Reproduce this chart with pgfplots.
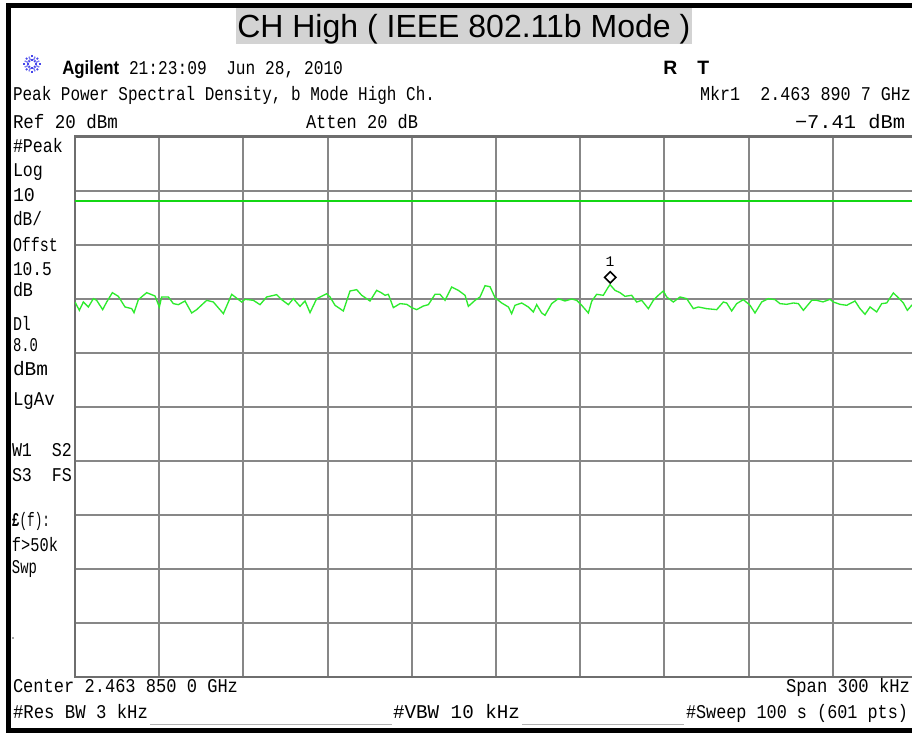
\documentclass[border=0pt]{standalone}
\usepackage{pgfplots}
\pgfplotsset{compat=1.18}
\usepackage{graphicx}
\usepackage{fontspec}
\setmainfont{Liberation Sans}
\newfontfamily\scr{Liberation Mono}
\newcommand\mono{\scr\fontsize{14.6pt}{17pt}\selectfont}
\definecolor{trace}{RGB}{45,235,45}
\definecolor{dlc}{RGB}{20,215,20}
\definecolor{gridc}{RGB}{135,135,135}
\definecolor{framec}{RGB}{110,110,110}
\definecolor{titlebg}{RGB}{211,211,211}
\definecolor{agblue}{RGB}{70,70,235}
% text placed between measured left/right pixel extents, baseline y
\newcommand\T[4]{\node[anchor=base west,inner sep=0pt,outer sep=0pt] at (#1,#3) {\resizebox{\dimexpr 3pt*(#2-#1)/4\relax}{\height}{\mono #4}};}
\begin{document}
\begin{tikzpicture}
\path[use as bounding box] (0pt,0pt) rectangle (684pt,-549.75pt);
\clip (0pt,0pt) rectangle (684pt,-549.75pt);
\fill[white] (0pt,0pt) rectangle (684pt,-549.75pt);
\begin{axis}[at={(56.25pt,-507.75pt)}, anchor=south west, scale only axis,
  width=631.5pt, height=405.375pt,
  xmin=-150, xmax=150, ymin=-80, ymax=20,
  xtick={-150,-120,...,150}, ytick={-80,-70,...,20},
  xticklabels={}, yticklabels={}, tick style={draw=none},
  grid=major, grid style={gridc, line width=1.5pt},
  axis line style={framec, line width=2.2pt}, clip=true]
\addplot[dlc, line width=1.3pt] coordinates {(-150,8) (150,8)};
\addplot[trace, line width=1pt] coordinates {
(-150.0,-10.62) (-148.45,-12.16) (-147.03,-10.62) (-145.24,-11.54) (-143.46,-10.00) (-142.28,-10.31) (-140.14,-12.03) (-138.71,-10.62) (-136.69,-8.89) (-134.56,-9.57) (-132.18,-11.54) (-129.80,-11.85) (-128.97,-12.59) (-127.43,-10.18) (-124.46,-8.89) (-121.49,-9.51) (-119.95,-11.54) (-119.12,-9.69) (-116.74,-9.69) (-114.96,-10.92) (-113.18,-11.11) (-110.80,-10.43) (-108.43,-12.65) (-106.65,-12.03) (-103.08,-10.31) (-100.71,-10.62) (-97.14,-12.77) (-94.17,-9.20) (-90.61,-10.62) (-89.42,-10.12) (-86.45,-10.31) (-84.08,-11.11) (-81.71,-9.69) (-78.14,-9.26) (-76.36,-10.18) (-73.98,-11.11) (-72.20,-10.00) (-69.83,-11.42) (-68.04,-10.43) (-66.26,-12.59) (-63.89,-10.00) (-60.32,-9.08) (-59.13,-9.69) (-57.36,-11.23) (-54.39,-12.28) (-52.01,-8.58) (-49.64,-8.34) (-47.85,-9.38) (-44.89,-10.43) (-42.51,-8.46) (-40.73,-8.95) (-39.54,-9.38) (-38.35,-9.20) (-36.57,-11.66) (-34.19,-10.92) (-31.82,-11.05) (-30.04,-11.66) (-28.26,-12.03) (-25.88,-11.36) (-24.10,-11.11) (-21.73,-9.20) (-19.95,-9.20) (-18.16,-10.31) (-15.79,-7.84) (-13.41,-8.46) (-11.03,-9.38) (-9.85,-11.42) (-7.47,-10.31) (-5.69,-9.69) (-3.91,-7.6) (-2.12,-7.8) (-0.34,-9.82) (2.03,-10.80) (4.41,-11.54)
(5.58,-12.77) (6.77,-11.23) (9.15,-10.80) (11.52,-11.54) (13.30,-12.46) (14.49,-11.11) (16.27,-12.65) (17.46,-13.08) (19.83,-10.92) (22.21,-10.00) (24.58,-10.43) (26.96,-10.06) (28.74,-10.31) (30.52,-11.23) (32.90,-12.65) (34.09,-10.49) (35.87,-9.20) (38.24,-9.38) (40.02,-7.84) (40.62,-7.41) (42.40,-8.46) (44.18,-8.89) (45.96,-9.57) (48.34,-9.38) (50.12,-10.62) (51.90,-10.31) (54.28,-11.85) (56.06,-10.31) (57.84,-9.38) (59.62,-8.58) (60.81,-9.69) (63.19,-10.62) (65.56,-9.69) (67.94,-10.00) (70.31,-11.85) (72.09,-11.54) (75.06,-11.85) (78.63,-12.03) (81.00,-10.62) (82.19,-10.80) (83.97,-12.28) (85.75,-10.92) (88.13,-10.18) (90.50,-11.23) (92.28,-12.65) (94.66,-10.62) (97.04,-10.00) (99.41,-10.18) (101.19,-10.92) (103.57,-11.05) (105.94,-10.80) (107.72,-10.92) (109.51,-12.16) (112.48,-10.31) (114.26,-10.31) (116.5,-10.6) (119.01,-10.12) (120.19,-10.62) (122.57,-11.05) (124.94,-11.23) (127.91,-10.43) (129.69,-11.85) (131.48,-12.90) (133.26,-11.54) (135.63,-12.46) (137.42,-10.92) (139.20,-10.80) (141.57,-8.95) (143.36,-9.82) (145.14,-10.80) (146.56,-12.16) (148.11,-11.23) (150,-10.6)};
\addplot[only marks, mark=square, mark size=3pt,
  mark options={yshift=5.5pt, rotate=45, draw=black, line width=1.2pt, fill=none}]
  coordinates {(40.7,-7.41)};
\end{axis}
\begin{scope}[x=0.75pt, y=-0.75pt]
% frame
\fill[black] (6,3) rectangle (912,8);
\fill[black] (6,3) rectangle (11,733);
\fill[black] (6,727.5) rectangle (912,733);
% title
\fill[titlebg] (236,8) rectangle (692,43.5);
\node[anchor=base west,inner sep=0pt] at (237,37.7) {\resizebox{\dimexpr 3pt*(690-237)/4\relax}{\height}{\fontsize{24pt}{25pt}\selectfont CH High ( IEEE 802.11b Mode )}};
% logo
\foreach \a in {0,45,...,315} {\draw[agblue, line width=1.3pt, dash pattern=on 1.5pt off 1.2pt] (32,64) ++(\a:3) -- ++(\a:7);}
\foreach \a in {22.5,67.5,...,337.5} {\draw[agblue!70, line width=1pt] (32,64) ++(\a:4) -- ++(\a:4);}
% header
\node[anchor=base west,inner sep=0pt] at (62,74) {\resizebox{\dimexpr 3pt*(119-62)/4\relax}{\height}{\bfseries\fontsize{14.5pt}{15pt}\selectfont Agilent}};
\T{129}{343}{74}{21:23:09~~Jun 28, 2010}
\node[anchor=base west,inner sep=0pt] at (663,74) {\bfseries\fontsize{14.5pt}{15pt}\selectfont R};
\node[anchor=base west,inner sep=0pt] at (697,74) {\bfseries\fontsize{14.5pt}{15pt}\selectfont T};
\T{13}{435}{100}{Peak Power Spectral Density, b Mode High Ch.}
\T{700}{911}{100}{Mkr1~~2.463 890 7 GHz}
\T{13}{118}{128}{Ref 20 dBm}
\T{306}{418}{128}{Atten 20 dB}
\T{795}{905}{128}{−7.41 dBm}
% left annotations
\T{13}{63}{152}{\#Peak}
\T{13}{43}{176.5}{Log}
\T{13}{35}{201.5}{10}
\T{13}{42}{225}{dB/}
\T{13}{58}{251.5}{Offst}
\T{13}{52}{275}{10.5}
\T{13}{33}{296.5}{dB}
\T{13}{31}{330}{Dl}
\T{13}{38}{351.5}{8.0}
\T{13}{48}{375.5}{dBm}
\T{13}{55}{405}{LgAv}
\T{12}{72}{456.5}{W1~~S2}
\T{12}{72}{481.5}{S3~~FS}
\T{12}{50}{526.5}{{\bfseries £}(f):}
\T{12}{58}{551.5}{f>50k}
\T{12}{37}{573}{Swp}
\fill[black!70] (13,638) circle (0.8);
% marker label
\node[anchor=base,inner sep=0pt] at (610,266.5) {\scr\fontsize{11pt}{11pt}\selectfont 1};
% footer
\T{13}{238}{692}{Center 2.463 850 0 GHz}
\T{786}{910}{692}{Span 300 kHz}
\T{13}{148}{718}{\#Res BW 3 kHz}
\T{393}{520}{718}{\#VBW 10 kHz}
\T{686}{908}{718}{\#Sweep 100 s (601 pts)}
\draw[black!30, line width=0.8pt] (150,724.5) -- (392,724.5);
\draw[black!30, line width=0.8pt] (522,724.5) -- (684,724.5);
\end{scope}
\end{tikzpicture}
\end{document}
